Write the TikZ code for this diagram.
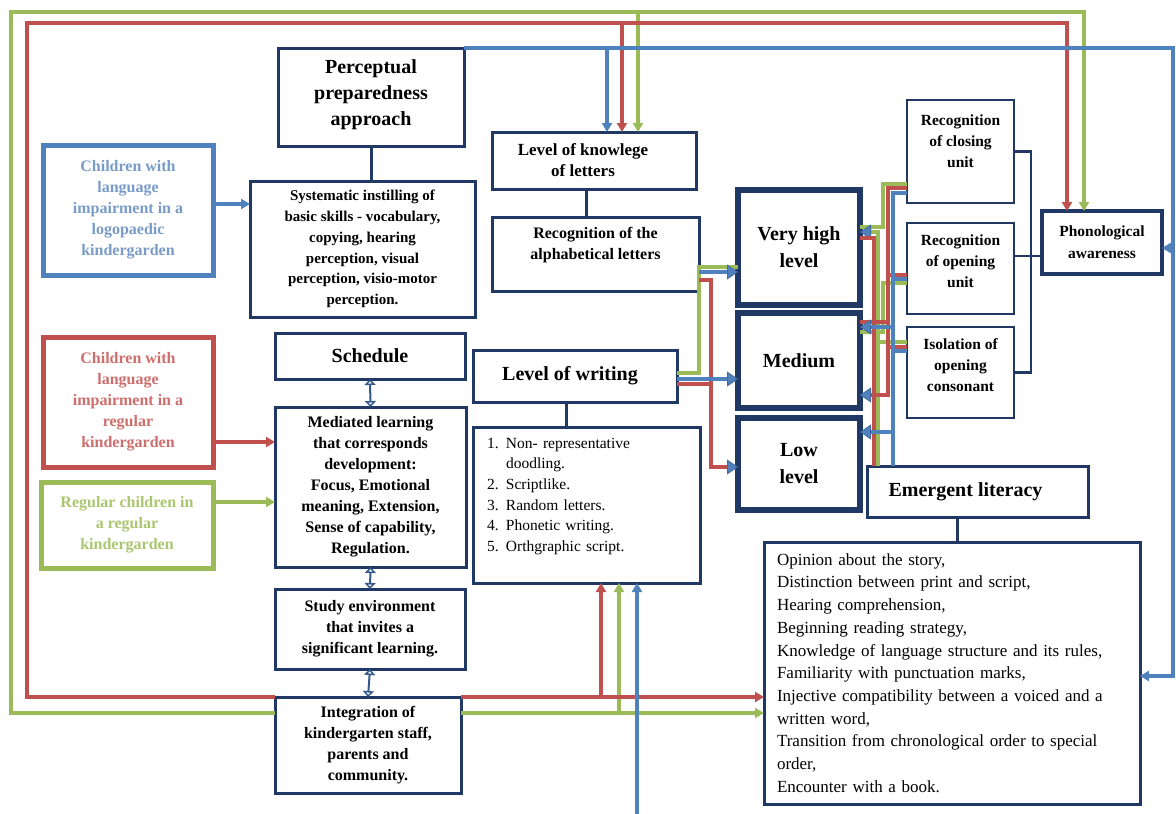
\documentclass[tikz,border=0pt]{standalone}
\usepackage{fontspec}
\setmainfont{Liberation Serif}
\usetikzlibrary{arrows.meta}
\definecolor{navy}{RGB}{31,56,100}
\definecolor{cb}{RGB}{79,129,189}
\definecolor{cr}{RGB}{192,80,77}
\definecolor{cg}{RGB}{155,187,89}
\definecolor{cbt}{RGB}{120,155,200}
\definecolor{crt}{RGB}{205,110,108}
\definecolor{cgt}{RGB}{170,198,110}
\newcommand\wnum[1]{\makebox[19pt][l]{#1}}
\begin{document}
\begin{tikzpicture}[x=1pt,y=-1pt,
  box/.style={draw=navy, line width=3pt, fill=white, inner sep=0pt, outer sep=0pt, align=center, font=\bfseries\fontsize{16}{21}\selectfont},
  ttl/.style={box, font=\bfseries\fontsize{20}{26}\selectfont},
  lvl/.style={box, line width=5.5pt, font=\bfseries\fontsize{20}{27}\selectfont},
  smallbox/.style={box, line width=2pt, font=\bfseries\fontsize{15.5}{21}\selectfont},
  grp/.style={box, line width=5pt},
  link/.style={draw=navy, line width=3pt},
  dbl/.style={draw=navy!55!cb, line width=2pt, {Triangle[open,length=6pt,width=11pt]}-{Triangle[open,length=6pt,width=11pt]}},
  bl/.style={draw=cb, line width=3.2pt},
  rd/.style={draw=cr, line width=3.2pt},
  gr/.style={draw=cg, line width=3.2pt},
  ctip/.style={-{Triangle[length=9pt,width=10pt]}},
  ltip/.style={-{Triangle[length=11pt,width=15pt,color=cb!70!navy,fill=cb,line width=0.8pt]}},
]
\useasboundingbox (0,0) rectangle (1176,814);
\fill[white] (0,0) rectangle (1176,814);

% ---------- boxes ----------
\node[ttl, minimum width=186, minimum height=98] (perc) at (371,97) {Perceptual\\preparedness\\approach\\[-18pt]\mbox{}};
\node[box, font=\bfseries\fontsize{15}{20.7}\selectfont, minimum width=225, minimum height=136] (sys) at (362.5,249) {Systematic instilling of\\basic skills - vocabulary,\\copying, hearing\\perception, visual\\perception, visio-motor\\perception.};
\node[ttl, minimum width=190, minimum height=46] (sched) at (370,356) {Schedule};
\node[box, minimum width=191, minimum height=160] (med) at (370.5,487) {Mediated learning\\that corresponds\\development:\\Focus, Emotional\\meaning, Extension,\\Sense of capability,\\Regulation.};
\node[box, minimum width=190, minimum height=80] (study) at (370,629) {Study environment\\that invites a\\significant learning.};
\node[box, minimum width=186, minimum height=96] (integ) at (368,745) {Integration of\\kindergarten staff,\\parents and\\community.};

\node[grp, draw=cb, text=cbt, minimum width=170, minimum height=130] (kb) at (128,210) {Children with\\language\\impairment in a\\logopaedic\\kindergarden};
\node[grp, draw=cr, text=crt, minimum width=170, minimum height=130] (kr) at (128,402) {Children with\\language\\impairment in a\\regular\\kindergarden};
\node[grp, draw=cg, text=cgt, minimum width=172, minimum height=86] (kg) at (127,525) {Regular children in\\a regular\\kindergarden};

\node[box, font=\bfseries\fontsize{17}{21}\selectfont, minimum width=204, minimum height=57] (know) at (594,160.5) {Level of knowlege\hspace*{22pt}\\of letters\hspace*{22pt}};
\node[box, minimum width=207, minimum height=74] (recog) at (595.5,254) {Recognition of the\\alphabetical letters\\\mbox{}};
\node[ttl, minimum width=204, minimum height=52] (write) at (575,376) {Level of writing\hspace*{10pt}};
\node[box, font=\fontsize{15.5}{20.7}\selectfont, align=left, text width=199, minimum width=227, minimum height=156] (wlist) at (586.5,505) {\wnum{1.}Non- representative\\\hspace*{19pt}doodling.\\\wnum{2.}Scriptlike.\\\wnum{3.}Random letters.\\\wnum{4.}Phonetic writing.\\\wnum{5.}Orthgraphic script.\\\mbox{}};

\node[lvl, minimum width=122, minimum height=115] (vh) at (799,247.5) {Very high\\level};
\node[lvl, minimum width=122, minimum height=95] (medl) at (799,360.5) {Medium};
\node[lvl, minimum width=122, minimum height=92] (low) at (799,464) {Low\\level};

\node[smallbox, minimum width=107, minimum height=103] (close) at (960.5,151.5) {Recognition\\of closing\\unit\\\mbox{}};
\node[smallbox, minimum width=107, minimum height=91] (open) at (960.5,268.5) {Recognition\\of opening\\unit\\[-6pt]\mbox{}};
\node[smallbox, minimum width=107, minimum height=91] (iso) at (960.5,372.5) {Isolation of\\opening\\consonant\\[-6pt]\mbox{}};
\node[box, line width=3.5pt, font=\bfseries\fontsize{15.5}{22}\selectfont, minimum width=120, minimum height=63] (phono) at (1102,242.5) {Phonological\\awareness};

\node[ttl, minimum width=221, minimum height=51] (emerg) at (977.5,491.5) {Emergent literacy\hspace*{24pt}};
\node[box, font=\fontsize{17}{22.7}\selectfont, align=left, text width=350, minimum width=376, minimum height=262] (elist) at (952,673) {Opinion about the story,\\Distinction between print and script,\\Hearing comprehension,\\Beginning reading strategy,\\Knowledge of language structure and its rules,\\Familiarity with punctuation marks,\\Injective compatibility between a voiced and a\\written word,\\Transition from chronological order to special\\order,\\Encounter with a book.};

% ---------- navy links ----------
\draw[link] (perc.south) -- (perc.south |- sys.north);
\draw[link] (know.south -| 586,0) -- (recog.north -| 586,0);
\draw[link] (write.south -| 566,0) -- (wlist.north -| 566,0);
\draw[link] (emerg.south -| 957,0) -- (elist.north -| 957,0);
\draw[link, line width=2.5pt] (close.east) -- (close.east -| 1031,0) -- (iso.east -| 1031,0) -- (iso.east);
\draw[link, line width=2.5pt] (open.east |- 0,256) -- (phono.west |- 0,256);
\draw[dbl] (sched.south) -- (med.north);
\draw[dbl] (med.south) -- (study.north);
\draw[dbl] (study.south) -- (integ.north);

% ---------- coordinates ----------
\coordinate (bTR) at (1173,48);
\coordinate (bBR) at (1173,676);
\coordinate (bK) at (607,48);
\coordinate (bBot) at (637,814);
\coordinate (rBL) at (27,697);
\coordinate (rTL) at (27,23);
\coordinate (rTR) at (1067,23);
\coordinate (rK) at (622,23);
\coordinate (rW) at (601,697);
\coordinate (gBL) at (11,713);
\coordinate (gTL) at (11,12);
\coordinate (gTR) at (1084,12);
\coordinate (gK) at (638,12);
\coordinate (gW) at (619,713);

% ---------- green ----------
\draw[gr,ctip] (kg.east |- 0,502) -- (med.west |- 0,502);
\draw[gr,ctip] (integ.west |- gBL) -- (gBL) -- (gTL) -- (gTR) -- (gTR |- phono.north);
\draw[gr,ctip] (gK) -- (know.north -| gK);
\draw[gr,ctip] (integ.east |- gBL) -- (elist.west |- gBL);
\draw[gr,ctip] (gW) -- (wlist.south -| gW);
\draw[gr] (write.east |- 0,373) -- (699,373) -- (699,267) -- (vh.west |- 0,267);
\draw[gr] (close.west |- 0,184) -- (883,184) -- (883,227) -- (vh.east |- 0,227);
\draw[gr] (open.west |- 0,283) -- (883,283) -- (883,332) -- (medl.east |- 0,332);
\draw[gr] (iso.west |- 0,342) -- (878,342);
\draw[gr,ltip] (emerg.north -| 878,0) -- (878,232) -- (vh.east |- 0,232);

% ---------- red ----------
\draw[rd,ctip] (kr.east |- 0,442) -- (med.west |- 0,442);
\draw[rd,ctip] (integ.north west) -- (rBL) -- (rTL) -- (rTR) -- (rTR |- phono.north);
\draw[rd,ctip] (rK) -- (know.north -| rK);
\draw[rd,ctip] (integ.north east) -- (elist.west |- integ.north);
\draw[rd,ctip] (rW) -- (wlist.south -| rW);
\draw[rd,ltip] (recog.east |- 0,280) -- (711,280) -- (711,467) -- (low.west |- 0,467);
\draw[rd] (write.east |- 0,384) -- (711,384);
\draw[rd] (open.west |- 0,275) -- (888,275);
\draw[rd] (iso.west |- 0,347) -- (888,347);
\draw[rd] (888,322) -- (medl.east |- 0,322);
\draw[rd,ltip] (close.west |- 0,188) -- (888,188) -- (888,395) -- (medl.east |- 0,395);
\draw[rd] (emerg.north -| 874,0) -- (874,238) -- (vh.east |- 0,238);

% ---------- blue ----------
\draw[bl,ctip] (kb.east |- 0,204) -- (sys.west |- 0,204);
\draw[bl,ctip] (perc.north east) -- (bTR) -- (bBR) -- (elist.east |- bBR);
\draw[bl,ctip] (bTR |- 0,248) -- (phono.east |- 0,248);
\draw[bl,ctip] (bK) -- (know.north -| bK);
\draw[bl,ctip] (bBot) -- (wlist.south -| bBot);
\draw[bl,ltip] (recog.east |- 0,272) -- (vh.west |- 0,272);
\draw[bl,ltip] (write.east |- 0,379) -- (medl.west |- 0,379);
\draw[bl] (close.west |- 0,193) -- (893,193) -- (emerg.north -| 893,0);
\draw[bl] (open.west |- 0,279) -- (893,279);
\draw[bl] (iso.west |- 0,351) -- (893,351);
\draw[bl,ltip] (893,327) -- (medl.east |- 0,327);
\draw[bl,ltip] (893,432) -- (low.east |- 0,432);
\end{tikzpicture}
\end{document}
